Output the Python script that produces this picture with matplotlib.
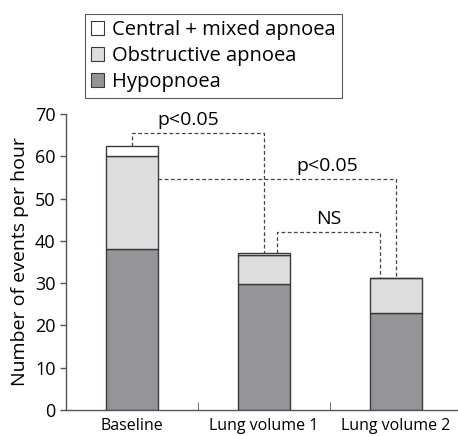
import matplotlib
matplotlib.use("Agg")
import matplotlib.pyplot as plt
from matplotlib.patches import Patch
import numpy as np

categories = ["Baseline", "Lung volume 1", "Lung volume 2"]
hypopnoea = [38.0, 29.7, 23.0]
obstructive = [22.0, 7.0, 8.2]
central = [2.5, 0.5, 0.0]
series_names = ["Central + mixed apnoea", "Obstructive apnoea", "Hypopnoea"]
yticks = [0, 10, 20, 30, 40, 50, 60, 70]

plt.rcParams['font.family'] = ['Open Sans', 'DejaVu Sans']

fig = plt.figure(figsize=(4.58, 4.36), dpi=100)
ax = fig.add_axes([66/458, 26/436, 392/458, 296/436])

x = np.arange(len(categories))
w = 0.4
edge = '#3a3a3a'
c_h, c_o, c_c = '#939598', '#dcdddf', '#ffffff'
hyp = np.array(hypopnoea)
obs = np.array(obstructive)
cen = np.array(central)
ax.bar(x, hyp, w, color=c_h, edgecolor=edge, linewidth=1)
ax.bar(x, obs, w, bottom=hyp, color=c_o, edgecolor=edge, linewidth=1)
ax.bar(x, cen, w, bottom=hyp + obs, color=c_c, edgecolor=edge, linewidth=1)

tops = hyp + obs + cen
ax.set_xlim(-0.5, 2.47)
ax.set_ylim(0, 70)
ax.set_yticks(yticks)
ax.set_xticks(x)
ax.set_xticklabels(categories, fontsize=11.5)
ax.tick_params(axis='x', length=0, pad=6)
ax.tick_params(axis='y', labelsize=13, length=4, color='#555555', width=1)
ax.set_xticks([0.5, 1.5], minor=True)
ax.tick_params(axis='x', which='minor', direction='in', length=6, color='#555555')
for s in ['top', 'right']:
    ax.spines[s].set_visible(False)
for s in ['left', 'bottom']:
    ax.spines[s].set_color('#555555')
    ax.spines[s].set_linewidth(1)
ax.set_ylabel("Number of events per hour", fontsize=14, labelpad=4)

dash = dict(color='#444444', linestyle=(0, (3, 2)), linewidth=0.9)
# bracket 1: baseline vs LV1
ax.plot([0, 0, 1, 1], [tops[0], 65.5, 65.5, tops[1]], **dash)
ax.text(0.43, 66.5, "p<0.05", fontsize=14, ha='center', va='bottom')
# bracket 2: baseline vs LV2
ax.plot([w/2, 2.0, 2.0], [54.6, 54.6, tops[2]], **dash)
ax.text(1.48, 55.6, "p<0.05", fontsize=14, ha='center', va='bottom')
# bracket 3: LV1 vs LV2
ax.plot([1.1, 1.1, 1.88, 1.88], [tops[1], 42.1, 42.1, tops[2]], **dash)
ax.text(1.49, 43.0, "NS", fontsize=14, ha='center', va='bottom')

handles = [Patch(facecolor=c_c, edgecolor=edge, linewidth=0.8),
           Patch(facecolor=c_o, edgecolor=edge, linewidth=0.8),
           Patch(facecolor=c_h, edgecolor=edge, linewidth=0.8)]
leg = fig.legend(handles, series_names, loc='upper left',
                 bbox_to_anchor=(85/458, 1 - 14/436), fontsize=14.5,
                 frameon=True, fancybox=False, edgecolor='#333333',
                 handlelength=0.65, handleheight=0.65, handletextpad=0.4,
                 labelspacing=0.3, borderpad=0.3, borderaxespad=0)
leg.get_frame().set_linewidth(0.8)

fig.savefig("out.png", dpi=100)
